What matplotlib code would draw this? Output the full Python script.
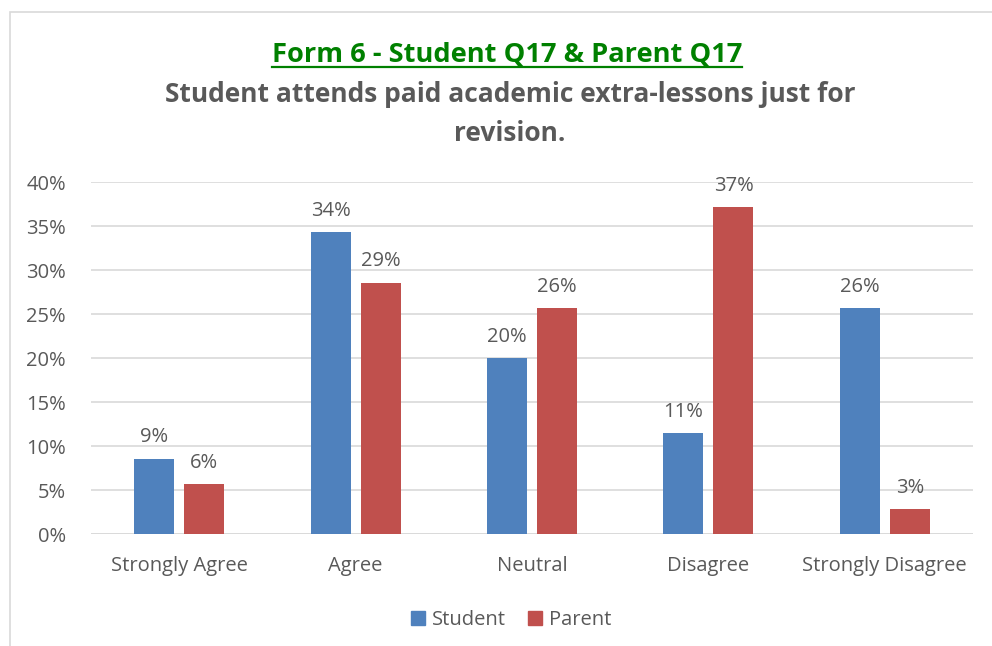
import matplotlib
matplotlib.use("Agg")
import matplotlib.pyplot as plt
from matplotlib.lines import Line2D
from matplotlib.patches import Rectangle, Patch
import numpy as np

plt.rcParams['font.family'] = ['Open Sans', 'DejaVu Sans']

categories = ["Strongly Agree", "Agree", "Neutral", "Disagree", "Strongly Disagree"]
student = [0.0857, 0.3429, 0.2000, 0.1143, 0.2571]
parent = [0.0571, 0.2857, 0.2571, 0.3714, 0.0286]
series_names = ["Student", "Parent"]
y_ticks = [0, 0.05, 0.10, 0.15, 0.20, 0.25, 0.30, 0.35, 0.40]

title = "Form 6 - Student Q17 & Parent Q17"
subtitle = "Student attends paid academic extra-lessons just for\nrevision."

BLUE = "#4F81BD"
RED = "#C0504D"
GRID = "#D9D9D9"
TXT = "#595959"

W, H = 992, 646
fig = plt.figure(figsize=(W / 100, H / 100), dpi=100)

# chart-area frame
fig.add_artist(Rectangle((10 / W, -0.01), 1.2, 1 - 12 / H + 0.01,
                         transform=fig.transFigure, fill=False,
                         edgecolor="#D9D9D9", linewidth=1.2))

ax = fig.add_axes([91 / W, 1 - 534 / H, (973 - 91) / W, (534 - 182) / H])
x = np.arange(len(categories))
bw = 0.227
off = 0.142
b1 = ax.bar(x - off, student, bw, color=BLUE, zorder=3)
b2 = ax.bar(x + off, parent, bw, color=RED, zorder=3)

for bars, vals in ((b1, student), (b2, parent)):
    for rect, v in zip(bars, vals):
        ax.annotate(f"{v * 100:.0f}%", (rect.get_x() + rect.get_width() / 2, v),
                    xytext=(0, 8), textcoords="offset points",
                    ha="center", va="bottom", fontsize=14.5, color=TXT)

ax.set_xlim(-0.5, len(categories) - 0.5)
ax.set_ylim(0, 0.40)
ax.set_yticks(y_ticks)
ax.set_yticklabels([f"{t * 100:.0f}%" for t in y_ticks])
ax.set_xticks(x)
ax.set_xticklabels(categories)
ax.tick_params(axis="both", length=0, labelsize=14.5, labelcolor=TXT)
ax.tick_params(axis="y", pad=18)
ax.tick_params(axis="x", pad=16)
ax.yaxis.grid(True, color=GRID, linewidth=1.2, zorder=0)
for s in ax.spines.values():
    s.set_visible(False)
ax.axhline(0, color=GRID, linewidth=1.2, zorder=2)

# titles
t = fig.text(507 / W, 1 - 54 / H, title, ha="center", va="center",
             fontsize=19.6, fontweight="bold", color="#008000")
fig.text(510 / W, 1 - 114 / H, subtitle, ha="center", va="center",
         fontsize=19, fontweight="bold", color=TXT, linespacing=1.55)

fig.canvas.draw()
bb = t.get_window_extent().transformed(fig.transFigure.inverted())
uy = bb.y0 + 0.5 / H
fig.add_artist(Line2D([bb.x0, bb.x1], [uy, uy], transform=fig.transFigure,
                      color="#008000", linewidth=1.6))

handles = [Patch(color=BLUE), Patch(color=RED)]
fig.legend(handles, series_names, loc="center", bbox_to_anchor=(511 / W, 1 - 620 / H),
           ncol=2, frameon=False, fontsize=14.5, labelcolor=TXT,
           handlelength=0.7, handleheight=0.7, handletextpad=0.35, columnspacing=1.1)

fig.savefig("out.png", dpi=100)
